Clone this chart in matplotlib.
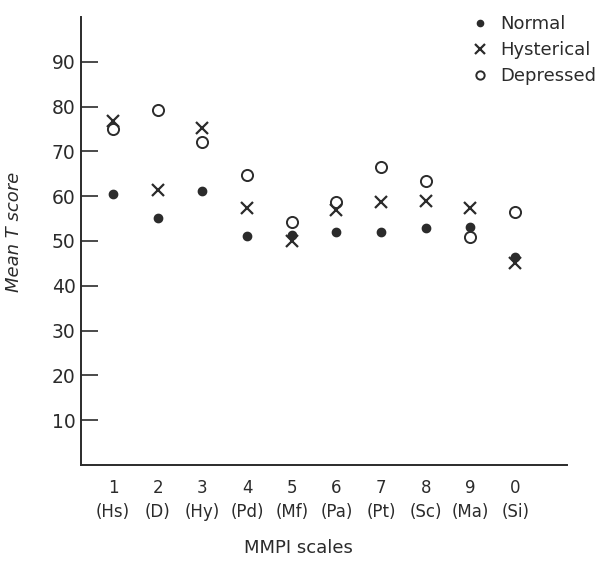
import matplotlib
matplotlib.use('Agg')
import matplotlib.pyplot as plt

scales = ['1', '2', '3', '4', '5', '6', '7', '8', '9', '0']
abbrev = ['(Hs)', '(D)', '(Hy)', '(Pd)', '(Mf)', '(Pa)', '(Pt)', '(Sc)', '(Ma)', '(Si)']

normal = [60.4, 55.2, 61.2, 51.1, 51.3, 52.1, 52.0, 52.9, 53.2, 46.5]
hysterical = [76.7, 61.3, 75.3, 57.3, 50.0, 57.0, 58.7, 58.9, 57.3, 45.1]
depressed = [75.0, 79.3, 72.0, 64.8, 54.2, 58.8, 66.5, 63.3, 51.0, 56.5]

ink = '#2b2b2b'
plt.rcParams['font.family'] = ['DejaVu Sans']

fig = plt.figure(figsize=(6.06, 5.62), dpi=100)
ax = fig.add_axes([0.1337, 0.1726, 0.8019, 0.7972])

pos = list(range(1, len(scales) + 1))
ax.plot(pos, normal, linestyle='none', marker='o', markersize=6, color=ink, label='Normal')
ax.plot(pos, hysterical, linestyle='none', marker='x', markersize=9, markeredgewidth=1.6,
        color=ink, label='Hysterical')
ax.plot(pos, depressed, linestyle='none', marker='o', markersize=8, markerfacecolor='none',
        markeredgewidth=1.4, color=ink, label='Depressed')

ax.set_xlim(0.284, 11.16)
ax.set_ylim(0, 100)
ax.set_yticks(range(10, 100, 10))
ax.set_xticks(pos)
ax.set_xticklabels([s + '\n' + a for s, a in zip(scales, abbrev)], fontsize=12,
                   color=ink, linespacing=1.45)
ax.tick_params(axis='x', length=0, pad=10)
ax.tick_params(axis='y', direction='in', length=12, width=1.2, color=ink,
               labelsize=13.5, labelcolor=ink, pad=4)

for s in ['top', 'right']:
    ax.spines[s].set_visible(False)
for s in ['left', 'bottom']:
    ax.spines[s].set_linewidth(1.4)
    ax.spines[s].set_color(ink)

ax.set_ylabel('Mean T score', fontsize=13, style='italic', color=ink)
ax.yaxis.set_label_coords(-0.12, 0.52)
ax.set_xlabel('MMPI scales', fontsize=13, color=ink)
ax.xaxis.set_label_coords(0.447, -0.165)

ax.legend(loc='upper left', bbox_to_anchor=(462 / 606, 1 - 6 / 562),
          bbox_transform=fig.transFigure, frameon=False, fontsize=13,
          markerscale=0.75, handlelength=1.0, handletextpad=0.6,
          labelspacing=0.45, borderpad=0, labelcolor=ink)

fig.savefig('out.png', dpi=100, facecolor='white')
